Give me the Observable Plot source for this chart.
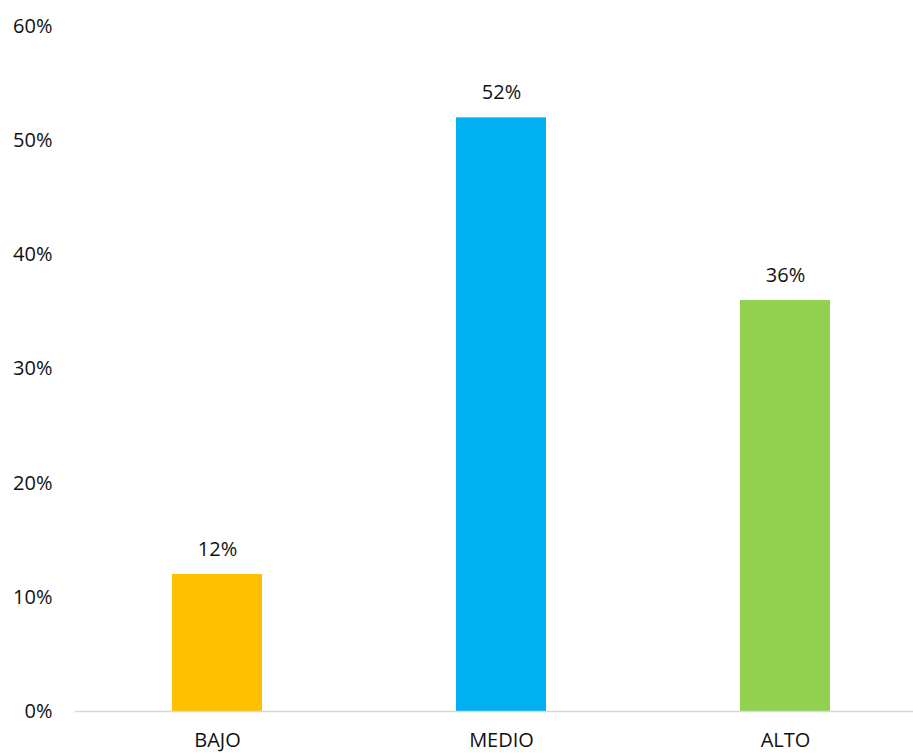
<!DOCTYPE html>
<html>
<head>
<meta charset="utf-8">
<script src="https://cdn.jsdelivr.net/npm/d3@7"></script>
<script src="https://cdn.jsdelivr.net/npm/@observablehq/plot@0.6"></script>
<style>
  html, body { margin: 0; padding: 0; background: #fff; }
  #chart svg { display: block; }
</style>
</head>
<body>
<div id="chart"></div>
<script>
const categories = ["BAJO", "MEDIO", "ALTO"];
const values = [0.12, 0.52, 0.36];
const colors = ["#FFC000", "#00B0F0", "#92D050"];
const yTicks = [0, 0.1, 0.2, 0.3, 0.4, 0.5, 0.6];

const data = categories.map((c, i) => ({category: c, value: values[i], color: colors[i]}));

const chart = Plot.plot({
  width: 913,
  height: 753,
  marginLeft: 75,
  marginRight: 0,
  marginTop: 26,
  marginBottom: 42,
  style: {fontFamily: "'Open Sans', sans-serif", fontSize: "20px", color: "#111", background: "#fff"},
  x: {domain: categories, range: [75, 927], paddingInner: 0.684, paddingOuter: 0.342, label: null, tickSize: 0, tickPadding: 21},
  y: {domain: [0, 0.6], ticks: yTicks, tickFormat: d => Math.round(d * 100) + "%", label: null, tickSize: 0, tickPadding: 23},
  marks: [
    Plot.barY(data, {x: "category", y: "value", fill: "color"}),
    Plot.ruleY([0], {stroke: "#d9d9d9", strokeWidth: 1.5}),
    Plot.text(data, {x: "category", y: "value", text: d => Math.round(d.value * 100) + "%", dy: -25, fill: "#111", fontSize: 20})
  ]
});
document.getElementById("chart").appendChild(chart);
</script>
</body>
</html>
